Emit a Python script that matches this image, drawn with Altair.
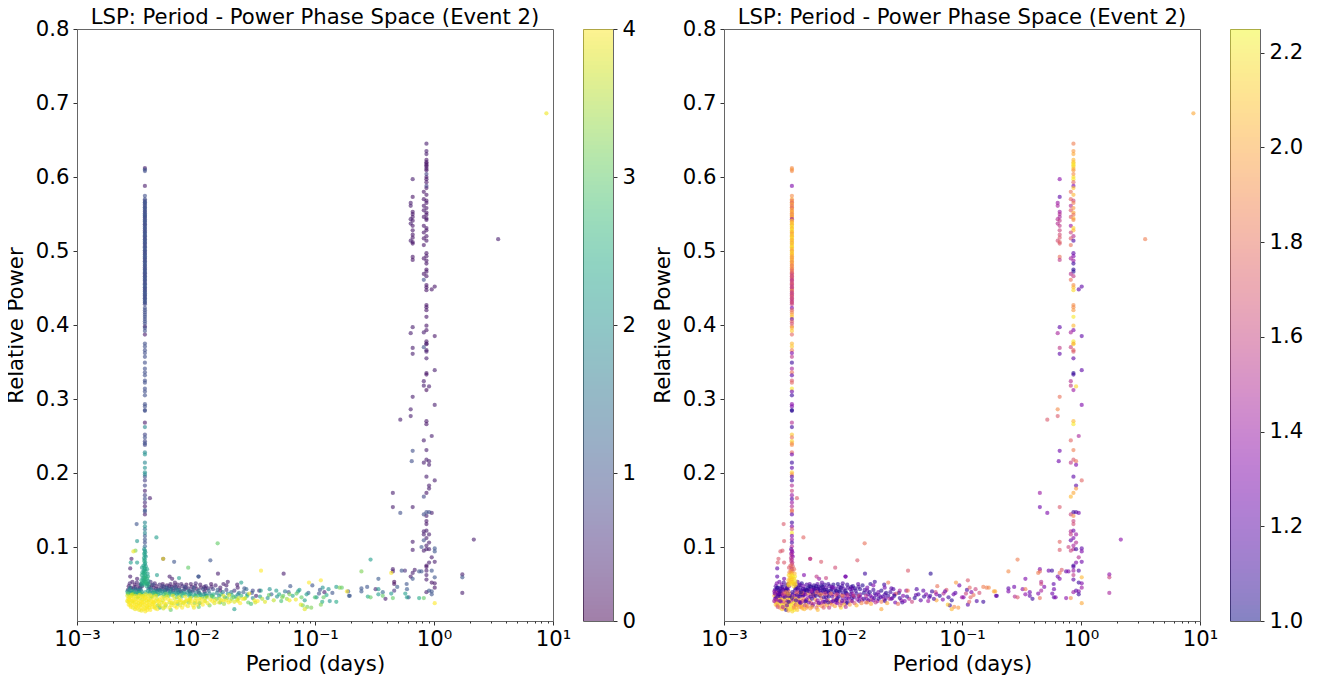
import altair as alt
import pandas as pd

SPIKE_A = 0.00372

# (power, left colour, right colour) for the short-period column
spike_a_upper = [
 (.612,.25,1.9),(.610,.9,1.95),(.608,.9,1.9),(.588,.25,1.3),(.5745,.9,1.9),(.570,.9,2.0),(.568,.8,1.8),(.566,.9,1.95),(.565,1.0,1.75),(.563,.9,2.0),
 (.561,.8,1.8),(.559,.9,1.9),(.558,1.0,1.75),(.556,.9,2.0),(.554,.9,1.85),(.553,.8,2.05),(.551,.9,1.95),(.549,1.0,1.8),(.548,.9,2.05),(.546,.9,1.9),
 (.545,.8,2.0),(.543,.9,1.35),(.541,.9,2.1),(.540,1.0,1.95),(.538,.9,2.05),(.536,.8,2.15),(.535,.9,2.0),(.533,.9,2.2),(.531,1.0,2.05),(.530,.9,2.1),
 (.528,.8,2.2),(.526,.9,2.0),(.525,.9,2.1),(.523,1.0,1.95),(.521,.9,2.15),(.520,.9,2.05),(.518,.8,2.1),(.516,.9,2.2),(.515,.9,2.0),(.513,1.0,2.1),
 (.511,.9,1.95),(.510,.9,2.15),(.508,.8,2.05),(.506,.9,2.1),(.505,.9,2.2),(.503,1.0,2.0),(.501,.9,2.1),(.500,.9,1.95),(.498,.8,2.15),(.496,.9,2.05),
 (.495,.9,2.1),(.493,1.0,2.0),(.491,.9,1.9),(.490,.9,2.05),(.488,.8,1.95),(.486,.9,2.1),(.485,.9,1.85),(.483,1.0,2.0),(.481,.9,1.9),(.480,.9,1.85),
 (.478,.8,1.95),(.476,.9,1.8),(.475,.9,1.9),(.473,1.0,1.75),(.471,.9,1.85),(.470,.9,1.7),(.468,.8,1.65),(.466,.9,1.6),(.465,.9,1.7),(.463,1.0,1.65),
 (.461,.9,1.6),(.460,.9,1.55),(.458,.8,1.65),(.456,.9,1.6),(.455,.9,1.7),(.453,1.0,1.6),(.451,.9,1.55),(.450,.9,1.65),(.448,.8,1.6),(.446,.9,2.0),
 (.445,.9,1.6),(.443,1.0,1.55),(.441,.9,1.65),(.440,.9,1.6),(.438,.8,1.7),(.436,.9,1.55),(.435,.9,1.65),(.433,1.0,1.6),(.431,.9,1.55),(.430,.9,1.65),(.428,.8,1.6),
 (.423,.9,1.3),(.420,.9,1.75),(.417,.9,1.85),(.414,.9,2.0),(.411,.9,2.1),(.408,.9,1.2),(.405,.9,1.75),(.402,.9,1.65),(.398,.25,1.8),(.396,.9,2.05),(.392,.9,2.1),
 (.387,.25,1.75),(.375,.9,2.05),(.371,.9,2.1),(.366,.9,1.85),(.362,.9,1.3),(.357,.9,1.55),(.349,.9,1.1),(.341,.9,1.45),(.336,.9,1.8),(.332,.9,1.2),
 (.325,.9,1.7),(.322,.9,1.75),(.314,.9,2.2),(.310,.9,1.25),(.305,.9,1.1),(.293,.9,1.35),(.290,.9,1.3),(.285,.9,1.05),(.284,.9,1.05),(.268,.25,1.5),
 (.262,1.8,1.1),(.252,.8,2.1),(.248,.9,1.8),(.243,.8,2.15),(.240,.9,1.95),(.238,.8,1.9),(.228,1.9,1.75),(.225,2.0,1.25),(.214,1.8,1.1),(.207,2.0,1.2),
 (.201,2.0,2.1),(.198,1.8,1.95),(.195,.9,1.2),(.190,.7,1.1),(.183,.8,1.5),(.176,.3,1.6),(.170,.7,1.4),
]

# period, power, left, right for the foot of that column
spike_a_lower = [
 (.00372,.165,.9,1.15),(.00372,.160,.5,1.4),(.00372,.155,.3,1.5),(.00372,.150,1.0,1.7),(.00372,.148,.9,1.85),(.00372,.144,.3,1.2),
 (.00372,.133,1.8,1.1),(.00372,.128,2.0,1.3),(.00372,.124,1.5,1.7),(.00372,.119,1.8,2.2),(.00372,.115,1.1,1.3),(.00372,.110,1.0,1.4),(.00372,.106,.9,1.15),(.00372,.101,1.3,1.5),
 (.00367,.097,2.0,1.2),(.00372,.095,2.2,1.45),(.00375,.093,2.1,1.3),(.00367,.091,2.3,1.4),(.00372,.089,2.2,1.5),(.00378,.087,2.0,1.35),(.00365,.085,2.3,1.55),(.00372,.083,2.2,1.45),
 (.00367,.081,2.4,1.6),(.00375,.079,2.3,1.5),(.00372,.077,2.2,1.65),(.00362,.075,2.3,1.75),(.00378,.074,2.1,1.7),(.00368,.072,2.4,1.8),(.00372,.070,2.3,1.6),(.00365,.068,2.2,1.9),
 (.00376,.067,2.4,1.75),(.00369,.065,2.5,2.0),(.00362,.064,2.3,2.1),(.00373,.062,2.4,2.15),(.00378,.060,2.5,2.2),(.00366,.059,2.3,2.1),(.00371,.058,2.6,2.2),(.00376,.056,2.4,2.05),
 (.00362,.055,2.5,2.15),(.00368,.054,2.2,2.2),(.00374,.053,2.5,2.0),(.00380,.052,2.6,2.15),(.00365,.051,2.4,2.2),(.00371,.050,2.5,2.1),
 (.00352,.072,2.2,1.7),(.00388,.070,2.3,1.8),(.00355,.066,2.4,1.9),(.00392,.064,2.2,2.05),(.00350,.062,2.5,2.15),(.00395,.060,2.4,2.2),(.00356,.058,2.3,2.1),(.00388,.057,2.5,2.15),
 (.00348,.055,2.4,2.05),(.00398,.054,2.3,2.2),(.00354,.052,2.5,2.1),(.00392,.051,2.4,2.15),(.00345,.050,2.2,2.0),(.00400,.049,2.5,2.1),(.00350,.048,2.3,2.2),(.00385,.047,2.4,2.15),
]

# period, power, left, right for the long-period columns
spike_b_upper = [
 (.864,.645,.3,1.85),(.864,.635,.3,1.95),(.864,.631,.3,2.0),(.864,.623,.2,2.05),(.864,.620,.2,2.1),(.864,.618,.2,2.15),(.864,.616,.2,2.2),(.864,.614,.2,2.15),(.864,.611,.2,2.05),
 (.864,.609,.2,1.95),(.864,.604,.7,1.9),(.864,.600,.2,2.15),(.864,.597,.2,2.2),(.864,.593,.2,1.75),(.864,.588,.7,1.3),(.864,.585,.2,2.1),(.821,.580,.2,1.8),(.864,.576,.2,2.05),
 (.821,.570,.2,1.75),(.864,.568,.2,1.6),(.864,.565,.2,1.85),(.821,.561,.2,1.5),(.864,.558,.2,1.95),(.821,.555,.2,1.7),(.864,.552,.2,2.0),(.864,.549,.2,1.8),(.821,.546,.2,1.7),
 (.864,.544,.2,2.05),(.864,.542,.2,1.9),(.821,.534,.2,1.4),(.864,.531,.2,2.15),(.864,.528,.2,2.05),(.821,.525,.2,1.6),(.864,.520,.2,1.5),(.821,.517,.2,1.7),(.864,.514,.2,1.15),
 (.821,.508,.2,1.8),(.864,.497,.2,1.2),(.864,.493,.2,1.3),(.821,.490,.2,1.45),(.864,.487,.2,1.4),(.864,.483,.2,1.1),(.864,.475,.2,1.05),(.864,.472,.2,1.05),(.821,.469,.2,1.5),
 (.864,.466,.2,1.55),(.821,.461,.9,1.8),(.864,.454,.2,1.9),(.864,.451,.2,2.05),(.864,.447,.2,2.15),(1.014,.452,.2,1.2),(.957,.448,.2,1.2),(.864,.427,.2,1.9),(.864,.424,.2,1.9),
 (.864,.420,.2,1.95),(.864,.411,.2,2.2),(.864,.399,.2,2.05),(.864,.393,.2,1.3),(.821,.390,.3,1.45),(1.014,.385,.2,1.2),(.864,.378,.2,2.2),(.864,.374,.2,2.2),(.821,.370,.9,1.6),(.864,.366,.3,1.75),
 (.662,.597,.3,1.35),(.662,.573,.2,1.2),(.637,.565,.3,1.4),(.637,.561,.3,1.45),(.662,.553,.2,1.4),(.662,.550,.2,1.5),(.662,.546,.2,1.45),(.637,.543,.3,1.5),(.662,.541,.2,1.55),
 (.637,.537,.3,1.5),(.662,.534,.2,1.55),(.662,.528,.2,1.6),(.662,.522,.2,1.65),(.662,.518,.2,1.7),(.637,.514,.3,1.65),(.662,.512,.2,1.75),(.662,.510,.2,1.7),(.662,.492,.2,1.8),
 (.662,.488,.2,1.55),(.662,.397,.3,1.2),(.637,.389,.3,1.45),(.662,.369,.3,1.55),(3.46,.516,.3,1.85),(8.8,.686,3.9,2.0),
]

spike_b_lower = [
 (.662,.361,.3,1.2),(.864,.364,.3,1.7),(.864,.375,.3,2.0),(.864,.355,.3,1.2),(1.014,.339,.3,1.2),(.864,.335,.2,1.05),(.864,.333,.2,1.1),(.821,.324,.3,1.5),(.821,.318,.3,1.55),
 (.909,.317,.3,2.15),(.864,.312,.1,1.4),(.662,.303,.3,1.8),(1.014,.292,.3,1.3),(.637,.286,.3,1.9),(.637,.277,.3,1.7),(.521,.272,.3,1.7),(.864,.270,.2,2.05),(.864,.266,.2,2.2),
 (.957,.250,.3,1.45),(.821,.244,.3,1.75),(.662,.230,.9,1.25),(.864,.231,.3,1.85),(.650,.216,.9,1.25),(.864,.218,.3,1.7),(.821,.214,.3,1.55),(.909,.216,.3,1.8),(.909,.211,.3,1.3),
 (.864,.195,.3,1.2),(1.014,.190,.3,1.75),(.909,.183,.3,1.2),(.909,.179,.3,1.95),(.864,.173,.2,2.0),(.821,.168,.8,2.05),(.451,.173,.3,1.4),(.451,.154,.3,1.25),(.662,.154,.3,1.7),
 (.521,.146,.9,1.3),(.864,.147,.9,1.1),(.909,.147,.9,1.15),(.957,.146,.3,1.25),(.821,.144,.9,1.6),(.864,.142,.3,1.9),(.864,.135,.2,1.6),(.864,.131,.2,1.65),(.821,.121,.3,1.5),
 (.864,.122,.3,1.25),(.909,.117,.3,1.4),(.821,.117,.3,1.55),(.864,.112,.3,1.3),(.909,.106,.3,1.5),(.662,.107,.3,1.75),(.821,.109,.9,1.2),(2.16,.110,.3,1.35),(.864,.102,.3,1.45),
 (.785,.100,1.0,1.6),(1.014,.098,1.0,1.2),(1.014,.094,1.0,1.3),(.864,.097,.3,1.5),(.821,.095,.3,1.6),(.909,.097,.3,1.1),(.662,.096,.3,1.7),(.957,.086,.3,1.5),(1.014,.080,.3,1.25),
 (.909,.079,.3,1.3),(.864,.075,.2,1.1),(.864,.073,.2,1.2),(.451,.070,.3,1.3),(.451,.067,.3,1.75),(.535,.068,1.0,1.25),(.570,.068,.5,1.1),(.689,.069,.3,1.7),(.662,.065,.3,1.85),
 (.637,.060,.3,1.25),(.750,.067,1.0,1.2),(.785,.067,1.0,1.3),(.864,.068,.3,1.4),(.957,.068,1.0,1.15),(.864,.062,.3,1.55),(.864,.056,.3,1.2),(.662,.057,1.0,1.3),(1.014,.059,1.0,2.05),
 (1.73,.063,.3,1.35),(1.73,.059,1.0,1.6),(.437,.065,4.0,1.85),(.2456,.067,3.2,1.9),(.293,.083,2.2,1.85),(.341,.057,1.1,1.3),(.463,.053,.1,1.5),(.463,.050,.1,1.6),(.589,.050,1.0,1.2),
 (.957,.052,.2,1.1),(1.014,.051,.2,1.3),(1.014,.045,.2,1.4),(.491,.046,1.1,1.3),(.593,.043,1.1,1.25),(.323,.043,.4,1.35),(.2744,.046,1.0,1.25),(.2456,.044,1.0,1.2),(.2456,.040,1.1,1.3),
 (.341,.043,2.1,1.85),(.371,.039,1.3,1.25),(.463,.041,.6,1.45),(.437,.037,2.1,1.3),(.161,.045,3.2,1.85),(.1855,.040,4.0,2.0),(.193,.034,1.1,1.25),(.278,.033,2.4,1.5),(.293,.032,3.0,1.7),
 (.341,.036,2.2,1.35),(.371,.034,3.0,1.2),(.391,.030,.3,1.1),(.451,.031,3.0,1.8),(.574,.037,2.2,1.25),(.593,.032,2.2,1.2),(.612,.032,1.0,1.3),(.750,.031,2.4,1.35),(.821,.031,3.0,1.9),
 (.864,.039,.3,1.4),(.909,.041,1.0,1.2),(.957,.040,1.0,1.3),(.957,.036,1.0,1.1),(1.014,.024,4.0,2.0),(1.73,.038,.3,1.45),
]

# scattered points above the cloud and along its tail
scatter_near = [
 (.00317,.131,1.0,1.7),(.00320,.108,2.1,1.7),(.00465,.113,2.2,1.75),(.0041,.166,.3,1.7),(.00298,.094,3.9,1.7),(.00310,.095,3.2,1.7),(.00283,.079,2.2,1.7),(.00287,.084,.3,1.7),
 (.00320,.079,2.2,1.7),(.00280,.071,.3,1.2),(.0053,.084,3.9,1.55),(.0053,.084,.3,1.55),(.00655,.080,1.0,1.7),(.0132,.082,1.0,1.7),(.0152,.105,3.0,1.8),(.0086,.072,3.0,1.65),
 (.0153,.064,.3,1.1),(.0352,.068,4.0,1.7),(.0545,.064,.3,1.05),(.0047,.062,2.2,1.3),(.0060,.060,.3,1.55),(.0063,.057,.3,1.4),(.0072,.058,2.2,1.6),(.0105,.060,1.0,1.3),
 (.0028,.060,.3,1.2),(.0032,.057,.3,1.25),
]

scatter_tail = [
 (.0105,.060,1.0,1.25),(.0117,.046,.3,1.1),(.0120,.044,.3,1.2),(.0135,.046,.3,1.15),(.0160,.045,.3,1.25),(.0170,.050,.3,1.05),(.0185,.053,.3,1.1),(.0160,.041,.3,1.2),(.0180,.048,.3,1.3),
 (.0222,.049,.3,1.1),(.0224,.045,.3,1.25),(.0240,.052,2.2,1.85),(.0255,.044,1.0,1.2),(.0265,.043,1.3,1.15),(.0300,.041,.8,1.45),(.0320,.034,.3,1.3),(.0340,.041,.4,1.4),(.0350,.041,2.2,1.8),
 (.0416,.043,2.0,1.15),(.0473,.041,2.2,1.2),(.0620,.047,1.0,1.8),(.0600,.039,1.0,1.6),(.0740,.042,2.2,1.7),(.0950,.048,1.0,1.25),(.1100,.042,1.0,1.15),(.1510,.046,2.2,1.85),(.1680,.045,3.0,1.9),
 (.1900,.040,1.0,2.0),(.1960,.034,1.0,1.1),(.1300,.043,2.0,1.6),(.1200,.039,.3,1.3),
 (.0123,.034,2.4,1.6),(.0140,.032,3.0,1.3),(.0160,.025,2.8,1.9),(.0170,.034,3.8,1.25),(.0190,.035,3.8,1.2),(.0210,.016,2.2,2.0),(.0245,.030,4.0,1.5),(.0275,.025,3.0,1.25),(.0310,.028,3.9,1.35),
 (.0360,.030,3.5,1.45),(.0280,.037,4.0,1.7),(.0290,.023,2.8,1.8),(.0315,.025,3.7,1.15),(.0410,.035,3.0,1.2),(.0500,.036,2.4,1.3),(.0530,.032,3.2,1.25),(.0610,.028,3.9,2.0),(.0690,.029,3.9,1.3),
 (.0790,.021,3.2,1.1),(.0860,.019,3.2,1.9),(.0890,.052,4.0,1.95),(.1120,.055,4.0,1.7),(.1030,.032,2.0,1.3),(.1180,.032,3.0,1.75),(.1330,.027,2.0,1.15),(.1510,.026,2.4,1.1),(.1120,.022,3.2,1.2),
 (.0930,.018,3.2,1.95),(.0820,.016,3.8,2.05),(.0760,.022,3.8,2.1),(.0540,.034,3.0,1.1),(.0610,.036,3.2,1.35),(.0700,.037,3.0,1.5),(.0850,.036,2.2,1.25),(.1000,.032,2.8,1.4),(.1150,.026,2.4,1.75),
 (.0225,.027,3.9,1.1),(.0235,.024,4.0,2.0),(.0255,.030,3.8,1.2),(.0270,.034,2.6,1.05),(.0300,.031,1.8,1.1),(.0330,.027,4.0,1.3),(.0345,.033,2.2,1.1),(.0380,.026,3.8,1.6),(.0400,.031,2.0,1.05),
 (.0430,.036,1.2,1.15),(.0450,.028,3.6,1.2),(.0480,.033,2.0,1.1),(.0520,.027,2.8,1.4),(.0560,.040,1.6,1.1),(.0580,.030,3.4,1.15),(.0650,.034,2.4,1.05),(.0720,.040,2.2,1.25),(.0770,.032,3.0,1.1),
 (.0820,.028,2.2,1.05),(.0880,.038,1.2,1.2),(.1080,.037,1.0,1.6),(.1250,.035,2.4,1.8),(.1400,.038,1.0,1.65),(.1160,.045,2.0,1.75),
]

# the dense cloud, read band by band; upper purple edge first
cloud_top = [
 (.00268,.042,.3,1.1),(.00272,.047,.2,1.2),(.00278,.051,.4,1.3),(.00285,.045,.2,1.05),(.00292,.053,.3,1.25),(.00298,.044,.4,1.1),(.00305,.049,.2,1.3),(.00310,.046,.3,1.05),(.00318,.052,.4,1.15),
 (.00325,.043,.2,1.4),(.00332,.048,.3,1.1),(.00340,.045,.5,1.2),(.00345,.050,.2,1.05),(.00352,.047,.3,1.3),(.00390,.050,.2,1.1),(.00405,.046,.3,1.15),(.00415,.053,.5,1.2),(.00425,.048,.2,1.05),
 (.00440,.045,.3,1.1),(.00450,.051,.4,1.05),(.00465,.047,.2,1.25),(.00480,.043,.3,1.1),(.00495,.049,.5,1.15),(.00510,.045,.3,1.05),(.00525,.050,.2,1.2),(.00540,.046,.4,1.1),(.00555,.042,.3,1.3),
 (.00570,.048,.2,1.1),(.00590,.044,.5,1.05),(.00610,.050,.3,1.2),(.00625,.046,.2,1.15),(.00640,.041,.4,1.1),(.00660,.048,.3,1.05),(.00680,.044,.5,1.3),(.00700,.049,.3,1.1),(.00720,.045,.2,1.2),
 (.00745,.040,.3,1.05),(.00770,.047,.5,1.15),(.00800,.043,.3,1.1),(.00830,.049,.2,1.05),(.00860,.044,.4,1.2),(.00890,.040,.3,1.1),(.00920,.046,.2,1.15),(.00950,.042,.6,1.05),(.00985,.047,.3,1.1),
 (.01020,.043,.2,1.2),(.01060,.038,.4,1.05),(.01100,.045,.3,1.15),(.01180,.040,.2,1.1),(.01260,.044,.5,1.05),
]

cloud_mid = [
 (.00265,.040,2.2,1.4),(.00270,.037,2.4,1.6),(.00276,.042,2.0,1.2),(.00282,.038,2.2,1.75),(.00288,.041,1.6,1.15),(.00295,.036,2.4,1.5),(.00302,.040,1.8,1.1),(.00308,.037,2.2,1.85),(.00315,.042,1.4,1.25),
 (.00322,.038,2.4,1.6),(.00330,.041,2.0,1.1),(.00338,.037,2.6,2.05),(.00345,.042,1.6,1.3),(.00352,.039,2.2,1.9),(.00395,.041,2.2,1.15),(.00405,.037,2.6,1.95),(.00418,.042,1.6,1.25),(.00430,.038,2.2,1.85),
 (.00445,.041,1.4,1.1),(.00460,.036,2.4,1.75),(.00475,.039,2.0,1.2),(.00490,.042,1.4,1.05),(.00505,.037,2.4,2.0),(.00520,.040,1.8,1.15),(.00535,.036,2.6,1.7),(.00550,.039,2.0,1.25),(.00565,.035,2.8,1.9),
 (.00580,.041,1.2,1.05),(.00600,.037,2.4,1.6),(.00615,.040,1.6,1.1),(.00635,.035,2.8,1.85),(.00655,.038,2.0,1.2),(.00675,.041,1.2,1.1),(.00695,.036,2.4,1.75),(.00715,.039,1.6,1.05),(.00740,.035,2.8,1.65),
 (.00760,.038,2.0,1.15),(.00790,.041,1.4,1.05),(.00815,.036,2.4,1.5),(.00845,.039,1.8,1.1),(.00875,.034,2.6,1.7),(.00905,.037,2.0,1.2),(.00935,.040,1.2,1.05),(.00970,.035,2.4,1.6),(.01000,.038,1.6,1.1),
 (.01040,.034,2.8,1.3),(.01080,.037,2.0,1.15),(.01130,.033,2.6,1.45),(.01160,.036,1.8,1.1),(.01220,.034,2.2,1.25),(.01300,.037,1.8,1.1),(.01400,.036,2.4,1.2),(.01500,.038,1.6,1.05),(.01620,.036,2.6,1.15),
 (.01750,.032,2.4,1.3),(.01850,.037,2.0,1.1),(.02000,.035,2.6,1.2),(.02150,.033,2.2,1.15),(.02300,.038,1.4,1.05),
]

cloud_low = [
 (.00265,.034,3.8,2.0),(.00268,.030,4.0,1.3),(.00270,.026,3.9,1.75),(.00272,.022,4.0,2.1),(.00275,.032,3.7,1.1),(.00278,.028,4.0,1.9),(.00280,.024,3.9,2.15),(.00283,.019,4.0,1.6),(.00285,.035,3.8,1.25),
 (.00288,.031,4.0,2.05),(.00290,.027,3.9,1.4),(.00293,.023,4.0,2.2),(.00295,.018,3.9,1.85),(.00298,.033,3.8,1.15),(.00300,.029,4.0,1.95),(.00303,.025,3.9,1.7),(.00305,.021,4.0,2.2),(.00308,.016,3.9,2.1),
 (.00310,.034,4.0,1.3),(.00313,.030,3.7,2.0),(.00315,.026,4.0,1.5),(.00318,.022,3.9,2.2),(.00320,.017,4.0,1.9),(.00323,.032,3.8,1.1),(.00325,.028,4.0,2.1),(.00328,.024,3.9,1.8),(.00330,.020,4.0,2.2),
 (.00333,.015,3.9,1.05),(.00335,.035,4.0,1.6),(.00338,.031,3.8,2.15),(.00340,.027,4.0,1.35),(.00343,.023,3.9,2.2),(.00345,.018,4.0,2.1),(.00348,.014,3.9,2.0),(.00350,.033,4.0,1.2),(.00353,.029,3.7,2.05),
 (.00355,.025,4.0,1.85),(.00358,.021,3.9,2.2),(.00360,.016,4.0,2.2),(.00363,.034,3.8,1.5),(.00365,.030,4.0,2.15),(.00368,.026,3.9,1.7),(.00370,.022,4.0,2.2),(.00373,.017,3.9,2.2),(.00375,.013,4.0,2.15),
 (.00378,.036,3.7,1.15),(.00380,.032,4.0,2.1),(.00383,.028,3.9,1.45),(.00385,.024,4.0,2.2),(.00388,.020,3.9,2.05),(.00390,.015,4.0,2.2),(.00393,.034,3.8,1.3),(.00395,.030,4.0,1.95),(.00398,.026,3.9,2.15),
 (.00400,.022,4.0,1.6),(.00405,.018,3.9,2.1),(.00410,.035,4.0,1.1),(.00415,.031,3.7,2.05),(.00420,.027,4.0,1.75),(.00425,.023,3.9,2.15),(.00430,.019,4.0,1.9),(.00435,.033,3.8,1.2),(.00440,.029,4.0,2.0),
 (.00445,.025,3.9,1.5),(.00450,.021,4.0,2.1),(.00455,.017,3.9,2.05),(.00460,.034,4.0,1.3),(.00470,.030,3.7,1.85),(.00480,.026,4.0,1.15),(.00490,.022,3.9,2.15),(.00495,.018,2.4,1.9),(.00510,.032,4.0,1.4),
 (.00525,.028,3.8,2.05),(.00540,.024,4.0,1.7),(.00555,.021,3.0,1.15),(.00570,.033,3.9,1.25),(.00585,.029,4.0,1.95),(.00600,.025,3.7,1.6),(.00620,.021,3.9,2.0),(.00640,.034,4.0,1.1),(.00660,.030,3.8,1.75),
 (.00680,.026,4.0,1.3),(.00700,.023,3.0,1.85),(.00720,.032,3.9,1.15),(.00750,.028,4.0,1.9),(.00780,.024,3.7,2.05),(.00810,.033,3.9,1.2),(.00840,.029,4.0,1.7),(.00870,.025,3.2,1.45),(.00900,.031,3.9,1.1),
 (.00930,.027,4.0,1.85),(.00960,.018,3.9,2.15),(.00990,.031,3.8,1.25),(.01030,.027,4.0,1.6),(.01070,.024,2.6,1.1),(.01110,.030,3.9,1.3),(.01170,.027,4.0,1.75),(.01240,.032,3.6,1.15),(.01320,.029,4.0,1.4),
]

# second reading of the cloud, filling what the bands leave open
cloud_fill = [
 (.00282,.033,3.9,1.15),(.00338,.021,4.0,1.25),(.00291,.036,3.6,1.05),(.00402,.028,3.9,1.1),(.00274,.029,3.8,1.35),(.00356,.034,3.7,1.1),(.00437,.024,4.0,1.2),(.00312,.019,4.0,1.5),(.00468,.035,2.8,1.1),
 (.00301,.037,2.8,1.2),(.00386,.018,4.0,1.9),(.00516,.025,3.8,1.25),(.00264,.027,3.9,1.45),(.00349,.026,4.0,1.05),(.00423,.033,3.2,1.15),(.00547,.030,3.9,1.1),(.00327,.033,3.5,1.2),(.00493,.029,4.0,1.3),
 (.00281,.021,4.0,1.8),(.00372,.031,3.8,1.1),(.00458,.027,3.9,1.6),(.00592,.034,3.0,1.05),(.00297,.027,3.9,1.2),(.00411,.021,4.0,2.0),(.00651,.024,3.8,1.45),(.00533,.033,3.4,1.15),(.00267,.037,3.0,1.25),
 (.00344,.037,2.8,1.05),(.00376,.039,2.4,1.1),(.00727,.028,3.7,1.2),(.00612,.028,4.0,1.35),(.00443,.036,3.0,1.05),(.00294,.040,2.4,1.1),(.00477,.021,3.2,1.6),(.00802,.026,3.9,1.3),(.00690,.032,3.0,1.1),
 (.00888,.029,3.8,1.2),(.00758,.033,2.8,1.05),(.00975,.024,3.2,1.45),(.00560,.037,3.0,1.1),(.00918,.033,2.6,1.1),(.01065,.030,3.9,1.2),(.01190,.031,3.4,1.1),(.01350,.033,3.0,1.15),(.01450,.028,3.9,1.5),
 (.01580,.030,3.6,1.25),(.01700,.028,3.9,1.65),(.01830,.031,3.2,1.1),(.01950,.027,3.8,1.4),(.02080,.032,3.0,1.2),(.02220,.029,3.6,1.55),(.02400,.034,2.6,1.1),(.02600,.031,3.4,1.3),
 (.00279,.045,1.6,1.05),(.00307,.044,1.2,1.15),(.00336,.043,.9,1.05),(.00399,.044,1.2,1.1),(.00435,.049,.9,1.2),(.00472,.041,1.6,1.05),(.00518,.043,1.0,1.1),(.00565,.045,1.1,1.05),(.00618,.043,1.4,1.15),
 (.00672,.046,.9,1.05),(.00732,.042,1.3,1.1),(.00805,.046,.8,1.2),(.00875,.041,1.5,1.05),(.00960,.045,1.0,1.1),(.01050,.041,1.4,1.05),(.01150,.043,.9,1.2),(.01280,.041,1.2,1.1),(.01390,.043,.8,1.05),
 (.01520,.042,1.1,1.15),(.01680,.039,1.6,1.05),(.01800,.042,.7,1.1),(.01980,.039,1.4,1.25),(.02100,.041,.6,1.05),(.02250,.036,1.8,1.15),(.02500,.039,1.2,1.1),(.02700,.036,2.0,1.3),(.02950,.038,1.0,1.05),
 (.00284,.037,2.0,1.25),(.00316,.036,2.4,1.6),(.00332,.039,1.8,1.85),(.00348,.036,2.2,2.0),(.00410,.039,1.8,1.6),(.00455,.038,2.2,1.75),(.00483,.036,2.6,1.3),(.00545,.041,1.4,1.45),(.00603,.039,2.0,1.7),
 (.00650,.036,2.4,1.9),(.00705,.038,1.8,1.55),(.00790,.037,2.4,1.8),(.00885,.036,2.0,1.6),(.00995,.034,2.6,1.85),(.01090,.035,2.2,1.55),(.01200,.037,1.6,1.4),(.01360,.034,2.4,1.65),(.01560,.034,2.0,1.5),
]

# third reading: the low, yellow floor of the cloud between 0.004 and 0.03 days
cloud_floor = [
 (.00413,.015,4.0,2.1),(.00447,.019,3.9,1.95),(.00431,.026,4.0,1.2),(.00473,.016,4.0,2.05),(.00505,.020,3.9,1.85),(.00488,.027,4.0,1.1),(.00532,.017,3.7,2.0),(.00562,.023,4.0,1.5),(.00549,.019,3.9,1.95),
 (.00598,.018,4.0,1.75),(.00628,.024,3.9,1.2),(.00613,.015,3.0,2.05),(.00665,.020,4.0,1.9),(.00702,.026,3.9,1.15),(.00688,.018,4.0,1.7),(.00735,.021,3.8,2.0),(.00765,.018,4.0,1.55),(.00752,.025,3.9,1.1),
 (.00808,.022,4.0,1.85),(.00825,.027,3.7,1.2),(.00855,.020,3.9,2.0),(.00895,.024,4.0,1.3),(.00875,.028,3.8,1.1),(.00945,.021,4.0,1.75),(.00985,.027,3.9,1.2),(.01020,.022,4.0,2.05),(.01055,.019,3.0,1.5),
 (.01095,.025,3.9,1.1),(.01140,.022,4.0,1.95),(.01195,.027,3.7,1.25),(.01250,.024,3.9,1.65),(.01300,.021,3.2,2.05),(.01370,.027,4.0,1.15),(.01430,.024,3.8,1.9),(.01490,.030,3.0,1.1),(.01560,.025,3.9,1.7),
 (.01640,.028,4.0,1.2),(.01720,.023,3.4,2.0),(.01800,.028,3.9,1.3),(.01880,.025,4.0,1.55),(.01990,.030,3.2,1.1),(.02100,.026,3.8,1.85),(.02280,.031,3.6,1.2),
 (.00415,.044,1.4,1.1),(.00442,.039,2.4,1.05),(.00462,.043,.6,1.15),(.00503,.041,1.6,1.1),(.00528,.047,.8,1.05),(.00572,.043,1.2,1.2),(.00595,.047,.5,1.05),(.00636,.044,.9,1.1),(.00665,.052,.3,1.2),
 (.00695,.042,1.6,1.05),(.00752,.050,.4,1.1),(.00822,.045,.7,1.25),(.00905,.050,.3,1.05),(.00995,.051,.5,1.15),(.01085,.049,.3,1.1),(.01210,.047,.6,1.05),(.01340,.050,.2,1.2),(.01460,.048,.4,1.05),
]

colorbar_ticks_left = [0, 1, 2, 3, 4]
colorbar_ticks_right = [1.0, 1.2, 1.4, 1.6, 1.8, 2.0, 2.2]
y_ticks = [.1, .2, .3, .4, .5, .6, .7, .8]
x_major = [1e-3, 1e-2, 1e-1, 1e0, 1e1]
x_minor = [m * d for d in (1e-3, 1e-2, 1e-1, 1e0) for m in (2, 3, 4, 5, 6, 7, 8, 9)]
title_text = "LSP: Period - Power Phase Space (Event 2)"

rows = [(SPIKE_A, p, l, r) for p, l, r in spike_a_upper]
for group in (cloud_top, cloud_mid, cloud_low, cloud_fill, cloud_floor, scatter_near, scatter_tail, spike_a_lower, spike_b_upper, spike_b_lower):
    rows.extend(group)
points = pd.DataFrame(rows, columns=["period", "power", "left", "right"])

FONT = "DejaVu Sans"
FS = 21.2
W, H, BAR = 476, 592, 30
x_scale = alt.Scale(type="log", domain=[1e-3, 1e1], nice=False)
y_scale = alt.Scale(domain=[0, 0.8], nice=False)


def scatter(field, scheme, domain, order_field):
    x_axis = alt.Axis(
        values=x_major, title="Period (days)", grid=False, tickSize=4, labelPadding=3, titlePadding=4,
        labelExpr="datum.value < 0.005 ? '10⁻³' : datum.value < 0.05 ? '10⁻²' : datum.value < 0.5 ? '10⁻¹' : datum.value < 5 ? '10⁰' : '10¹'",
        labelFlush=False,
    )
    encodes = dict(
        x=alt.X("period:Q", scale=x_scale, axis=x_axis),
        y=alt.Y("power:Q", scale=y_scale, axis=alt.Axis(values=y_ticks, format=".1f", title="Relative Power", grid=False,
                                                        tickSize=4, labelPadding=4, titlePadding=10, minExtent=41, maxExtent=41)),
        color=alt.Color(f"{field}:Q", scale=alt.Scale(scheme=scheme, domain=domain, clamp=True), legend=None),
    )
    if order_field:
        encodes["order"] = alt.Order(f"{order_field}:Q")
    dots = alt.Chart(points).mark_circle(size=18, opacity=0.6).encode(**encodes)
    minor = alt.Chart(pd.DataFrame({"period": x_minor})).mark_point(opacity=0).encode(
        x=alt.X("period:Q", scale=x_scale, axis=alt.Axis(values=x_minor, labels=False, title=None, domain=False, grid=False, tickSize=2, orient="bottom"))
    )
    return alt.layer(dots, minor).resolve_scale(x="independent").properties(
        width=W, height=H, title=alt.TitleParams(title_text, fontSize=FS, font=FONT, fontWeight="normal", offset=-10)
    )


def colorbar(scheme, domain, ticks, fmt):
    steps = 148
    span = domain[1] - domain[0]
    frame = pd.DataFrame({"lo": [domain[0] + span * i / steps for i in range(steps)],
                          "hi": [domain[0] + span * (i + 1) / steps for i in range(steps)]})
    return alt.Chart(frame).mark_rect(opacity=0.5, strokeWidth=0).encode(
        x=alt.value(0), x2=alt.value(BAR),
        y=alt.Y("lo:Q", scale=alt.Scale(domain=domain, nice=False),
                axis=alt.Axis(values=ticks, format=fmt, orient="right", title=None, grid=False, tickSize=4, labelPadding=5)),
        y2="hi:Q",
        color=alt.Color("lo:Q", scale=alt.Scale(scheme=scheme, domain=domain), legend=None),
    ).properties(width=BAR, height=H)


spacer = alt.Chart(pd.DataFrame({"v": [0]})).mark_point(opacity=0).encode(
    x=alt.X("v:Q", axis=None), y=alt.Y("v:Q", axis=None)
).properties(width=51, height=H, view=alt.ViewConfig(stroke="transparent"))

left_pair = [scatter("left", "viridis", [0, 4], "left"), colorbar("viridis", [0, 4], colorbar_ticks_left, "d")]
right_pair = [scatter("right", "plasma", [1, 2.25], None), colorbar("plasma", [1, 2.25], colorbar_ticks_right, ".1f")]

chart = alt.hconcat(
    *left_pair, spacer, *right_pair, spacing=30, bounds="flush",
).resolve_scale(color="independent", y="independent").properties(
    padding={"left": -4, "top": -2, "right": 0, "bottom": 0}
).configure_view(
    stroke="#666666", strokeWidth=1
).configure_axis(
    labelFont=FONT, titleFont=FONT, labelFontSize=FS, titleFontSize=FS, titleFontWeight="normal",
    labelColor="#000000", titleColor="#000000", tickColor="#333333", domainColor="#666666",
)

chart.save("out.html", embed_options={"renderer": "svg", "actions": False})
